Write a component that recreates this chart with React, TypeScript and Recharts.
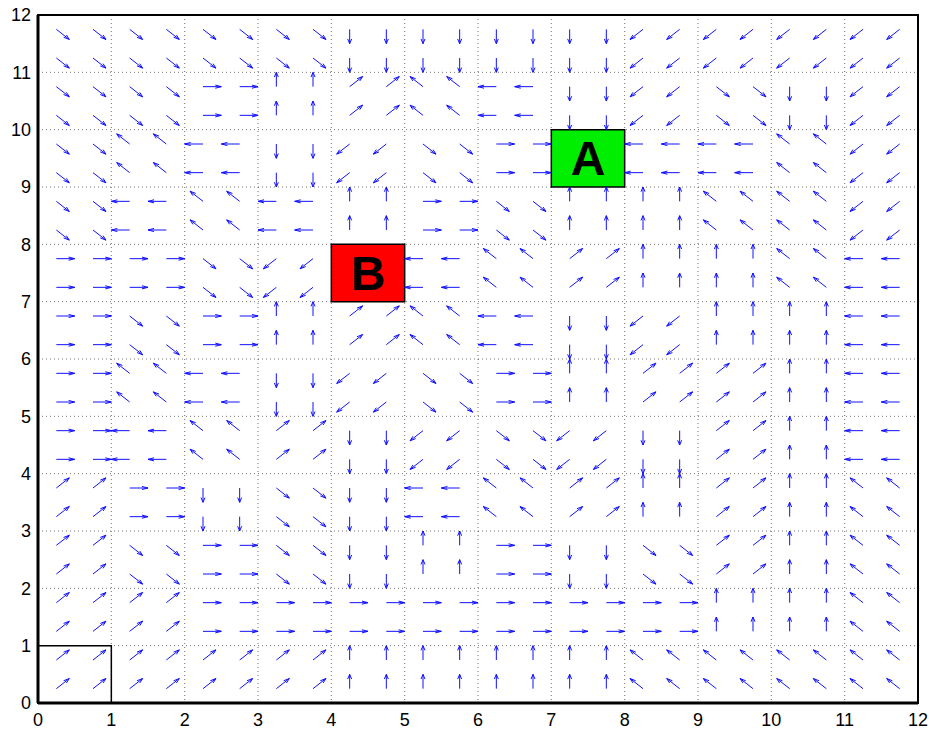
import React from 'react';
import { LineChart, Line, XAxis, YAxis, CartesianGrid, ReferenceArea } from 'recharts';

// Tick values on both axes
const axisTicks = [0, 1, 2, 3, 4, 5, 6, 7, 8, 9, 10, 11, 12];

// Lower edge (y) of each row of cells, top row first
const rowBottoms = [11, 10, 9, 8, 7, 6, 5, 4, 3, 2, 1, 0];

// Left edge (x) of each column of cells
const colLefts = [0, 1, 2, 3, 4, 5, 6, 7, 8, 9, 10, 11];

// Direction of the 4 arrows in each cell, one row per y band (top row first); '-' = covered by a box
const directionRows = [
  ['SE', 'SE', 'SE', 'SE', 'S', 'S', 'S', 'S', 'SW', 'SW', 'SW', 'SW'],
  ['SE', 'SE', 'E', 'N', 'NE', 'NW', 'W', 'S', 'SW', 'SE', 'S', 'SW'],
  ['SE', 'NW', 'W', 'S', 'SW', 'SE', 'E', '-', 'W', 'W', 'NW', 'SW'],
  ['SE', 'W', 'NW', 'W', 'N', 'E', 'SE', 'N', 'N', 'NW', 'NW', 'SW'],
  ['E', 'E', 'SE', 'SW', '-', 'W', 'NW', 'NE', 'N', 'N', 'NW', 'W'],
  ['E', 'SE', 'E', 'N', 'NE', 'NW', 'W', 'S', 'SW', 'N', 'N', 'W'],
  ['E', 'NW', 'W', 'S', 'SW', 'SE', 'E', 'N', 'NE', 'NE', 'N', 'W'],
  ['E', 'W', 'NW', 'NE', 'S', 'SW', 'SE', 'SW', 'S', 'NE', 'N', 'W'],
  ['NE', 'E', 'S', 'SE', 'S', 'W', 'NW', 'NE', 'N', 'NE', 'N', 'NW'],
  ['NE', 'SE', 'E', 'SE', 'S', 'N', 'E', 'S', 'SE', 'NE', 'N', 'NW'],
  ['NE', 'NE', 'E', 'E', 'E', 'E', 'E', 'E', 'E', 'N', 'N', 'NW'],
  ['NE', 'NE', 'NE', 'NE', 'N', 'N', 'N', 'N', 'NW', 'NW', 'NW', 'NW'],
];

// Arrow tail offsets within a cell, and arrow length (data units)
const arrowOffsets = [0.25, 0.75];
const arrowLength = 0.25;

// Boxes
const boxA = { x1: 7, x2: 8, y1: 9, y2: 10, label: 'A' };
const boxB = { x1: 4, x2: 5, y1: 7, y2: 8, label: 'B' };
const startCell = { x1: 0, x2: 1, y1: 0, y2: 1 };

const S2 = Math.SQRT1_2;
const dirVectors: Record<string, [number, number]> = {
  E: [1, 0], W: [-1, 0], N: [0, 1], S: [0, -1],
  NE: [S2, S2], NW: [-S2, S2], SE: [S2, -S2], SW: [-S2, -S2],
};

function buildQuiver() {
  const pts: { x: number; y: number | null }[] = [];
  const alpha = 0.33;
  const beta = 0.33;
  const eps = 1e-9;
  directionRows.forEach((row, ri) => {
    row.forEach((d, ci) => {
      const vec = dirVectors[d];
      if (!vec) return;
      arrowOffsets.forEach((oy) => {
        arrowOffsets.forEach((ox) => {
          const x = colLefts[ci] + ox;
          const y = rowBottoms[ri] + oy;
          const u = vec[0] * arrowLength;
          const v = vec[1] * arrowLength;
          pts.push({ x, y }, { x: x + u, y: y + v }, { x: x + u, y: null });
          pts.push(
            { x: x + u - alpha * (u + beta * (v + eps)), y: y + v - alpha * (v - beta * (u + eps)) },
            { x: x + u, y: y + v },
            { x: x + u - alpha * (u - beta * (v + eps)), y: y + v - alpha * (v + beta * (u + eps)) },
            { x: x + u, y: null }
          );
        });
      });
    });
  });
  return pts;
}

const tickStyle = { fontFamily: 'Liberation Sans, Arial, sans-serif', fontSize: 18, fill: '#000' };

export default function App() {
  const quiver = buildQuiver();
  return (
    <div style={{ position: 'absolute', left: 0, top: 0, background: '#fff' }}>
      <LineChart width={929} height={730} margin={{ top: 15, right: 11, bottom: 0, left: 0 }}>
        <CartesianGrid stroke="#000" strokeOpacity={0.55} strokeDasharray="1 3" />
        <XAxis
          type="number"
          dataKey="x"
          domain={[0, 12]}
          ticks={axisTicks}
          allowDataOverflow
          height={27}
          tickLine={false}
          tickSize={0}
          tickMargin={10}
          axisLine={{ stroke: '#000', strokeWidth: 3 }}
          tick={tickStyle}
          interval={0}
        />
        <YAxis
          type="number"
          dataKey="y"
          domain={[0, 12]}
          ticks={axisTicks}
          allowDataOverflow
          width={38}
          tickLine={false}
          tickSize={0}
          tickMargin={7}
          axisLine={{ stroke: '#000', strokeWidth: 3 }}
          tick={tickStyle}
          interval={0}
        />
        <Line
          data={quiver}
          dataKey="y"
          type="linear"
          stroke="#1010ff"
          strokeWidth={1}
          dot={false}
          activeDot={false}
          isAnimationActive={false}
          connectNulls={false}
        />
        <ReferenceArea
          x1={startCell.x1}
          x2={startCell.x2}
          y1={startCell.y1}
          y2={startCell.y2}
          fill="none"
          fillOpacity={0}
          stroke="#000"
          strokeWidth={1.5}
          ifOverflow="visible"
        />
        <ReferenceArea
          x1={boxA.x1}
          x2={boxA.x2}
          y1={boxA.y1}
          y2={boxA.y2}
          fill="#00ee00"
          fillOpacity={1}
          stroke="#000"
          strokeWidth={1.5}
          ifOverflow="visible"
          label={{ value: boxA.label, position: 'center', fontSize: 48, fontWeight: 'bold', fill: '#000', fontFamily: 'Liberation Sans, Arial, sans-serif' }}
        />
        <ReferenceArea
          x1={boxB.x1}
          x2={boxB.x2}
          y1={boxB.y1}
          y2={boxB.y2}
          fill="#ff0000"
          fillOpacity={1}
          stroke="#000"
          strokeWidth={1.5}
          ifOverflow="visible"
          label={{ value: boxB.label, position: 'center', fontSize: 48, fontWeight: 'bold', fill: '#000', fontFamily: 'Liberation Sans, Arial, sans-serif' }}
        />
        <ReferenceArea
          x1={0}
          x2={12}
          y1={0}
          y2={12}
          fill="none"
          fillOpacity={0}
          stroke="#000"
          strokeWidth={2}
          ifOverflow="visible"
        />
      </LineChart>
    </div>
  );
}
